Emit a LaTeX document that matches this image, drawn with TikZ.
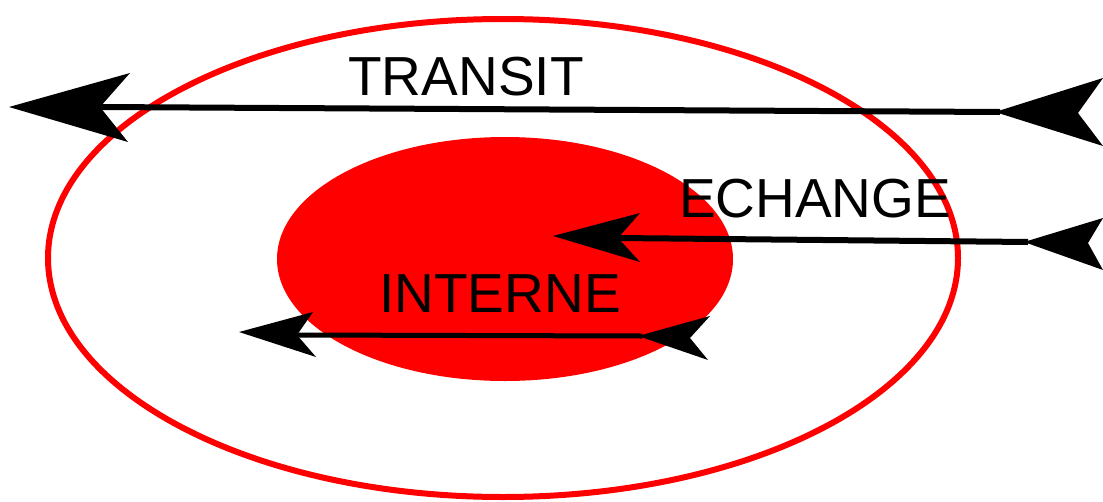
\documentclass[tikz,border=0pt]{standalone}
\usepackage{fontspec}
\setmainfont{Liberation Sans}
\begin{document}
\begin{tikzpicture}[x=1pt,y=-1pt,
  zone/.style={red},
  shaft/.style={line width=6pt,black},
  barb/.style={fill=black},
  label/.style={inner sep=0pt,anchor=base,font=\fontsize{55}{60}\selectfont}]
\useasboundingbox (0,0) rectangle (1103,501);

% zones
\draw[zone,line width=6pt] (503,258) ellipse [x radius=455, y radius=239];
\fill[zone] (505,259) ellipse [x radius=228, y radius=122];

% transit flow
\coordinate (tA) at (100,107);
\coordinate (tB) at (1000,112);
\draw[shaft] (tA) -- (tB);
\fill[barb] (9,107) -- (130,73) -- (tA) -- (128,142) -- cycle;
\fill[barb] (995,112) -- (1103,78) -- (1078,113) -- (1103,146) -- cycle;

% exchange flow
\coordinate (eA) at (618,238);
\coordinate (eB) at (1028,242);
\draw[shaft] (eA) -- (eB);
\fill[barb] (553,236) -- (640,213) -- (eA) -- (640,262) -- cycle;
\fill[barb] (1024,242) -- (1103,218) -- (1088,243) -- (1103,270) -- cycle;

% internal flow
\coordinate (iA) at (297,335);
\coordinate (iB) at (642,336);
\draw[shaft,line width=5pt] (iA) -- (iB);
\fill[barb] (239,332) -- (313,312) -- (iA) -- (316,357) -- cycle;
\fill[barb] (638,336) -- (710,316) -- (690,338) -- (708,360) -- cycle;

% labels
\node[label] (transit) at (466,95) {TRANSIT};
\node[label] (echange) at (815,217) {ECHANGE};
\node[label] (interne) at (500,312) {INTERNE};
\end{tikzpicture}
\end{document}
